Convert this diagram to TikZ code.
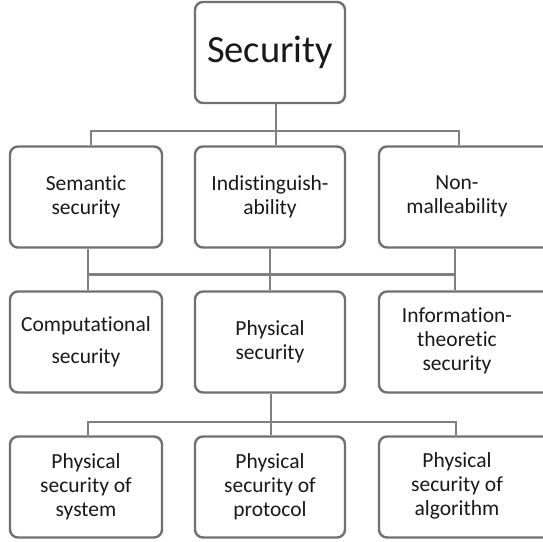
\documentclass[tikz,border=0pt]{standalone}
\usepackage{fontspec}
\setmainfont[Ligatures=NoCommon]{Carlito}
\definecolor{boxgray}{RGB}{112,112,112}
\definecolor{linegray}{RGB}{128,128,128}
\newcommand{\rsh}[1]{\begin{tabular}{@{}c@{}}#1\end{tabular}\hspace*{24pt}}
\begin{document}
\begin{tikzpicture}[x=1pt,y=-1pt,
  box/.style={draw=boxgray, line width=2.4pt, rounded corners=8pt, fill=white,
    minimum height=101pt, inner sep=0pt, align=center,
    font=\fontsize{21.5}{24}\selectfont, text=black!90},
  conn/.style={draw=linegray, line width=1.8pt},
  busline/.style={draw=linegray, line width=3pt}]
\useasboundingbox (0,0) rectangle (543,541);
\clip (0,0) rectangle (543,541);
% top
\node[box, minimum width=150pt, font=\fontsize{38.5}{44}\selectfont] (sec) at (270,52.5) {Security};
% row 1
\node[box, minimum width=152pt] (sem) at (86,197) {Semantic\\security};
\node[box, minimum width=150pt] (ind) at (270,197) {Indistinguish-\\ability};
\node[box, minimum width=180pt] (non) at (469,197) {\rsh{Non-\\malleability}};
% row 2
\node[box, minimum width=152pt, font=\fontsize{21.5}{32}\selectfont] (comp) at (86,342) {Computational\\security};
\node[box, minimum width=150pt] (phys) at (270,342) {Physical\\security};
\node[box, minimum width=180pt] (info) at (469,342) {\rsh{Information-\\theoretic\\security}};
% row 3
\node[box, minimum width=152pt] (psys) at (86,487) {Physical\\security of\\system};
\node[box, minimum width=150pt] (pprot) at (270,487) {Physical\\security of\\protocol};
\node[box, minimum width=180pt] (palg) at (469,487) {\rsh{Physical\\security of\\algorithm}};
% connectors
\coordinate (t1) at (0,131);
\coordinate (t2) at (0,274);
\coordinate (t3) at (0,422);
\draw[conn] ([xshift=6pt]sec.south) -- ([xshift=6pt]ind.north);
\draw[conn] ([xshift=5pt]sem.north) |- ([xshift=-10pt]non.north |- t1) -- ([xshift=-10pt]non.north);
\draw[conn] ([xshift=2pt]sem.south) -- ([xshift=2pt]comp.north);
\draw[conn] (ind.south) -- (phys.north);
\draw[conn] ([xshift=-14pt]non.south) -- ([xshift=-14pt]info.north);
\draw[busline] ([xshift=2pt]sem.south |- t2) -- ([xshift=-14pt]non.south |- t2);
\draw[conn] ([xshift=1pt]phys.south) -- ([xshift=1pt]pprot.north);
\draw[conn] ([xshift=2pt]psys.north) |- ([xshift=-13pt]palg.north |- t3) -- ([xshift=-13pt]palg.north);
\end{tikzpicture}
\end{document}
